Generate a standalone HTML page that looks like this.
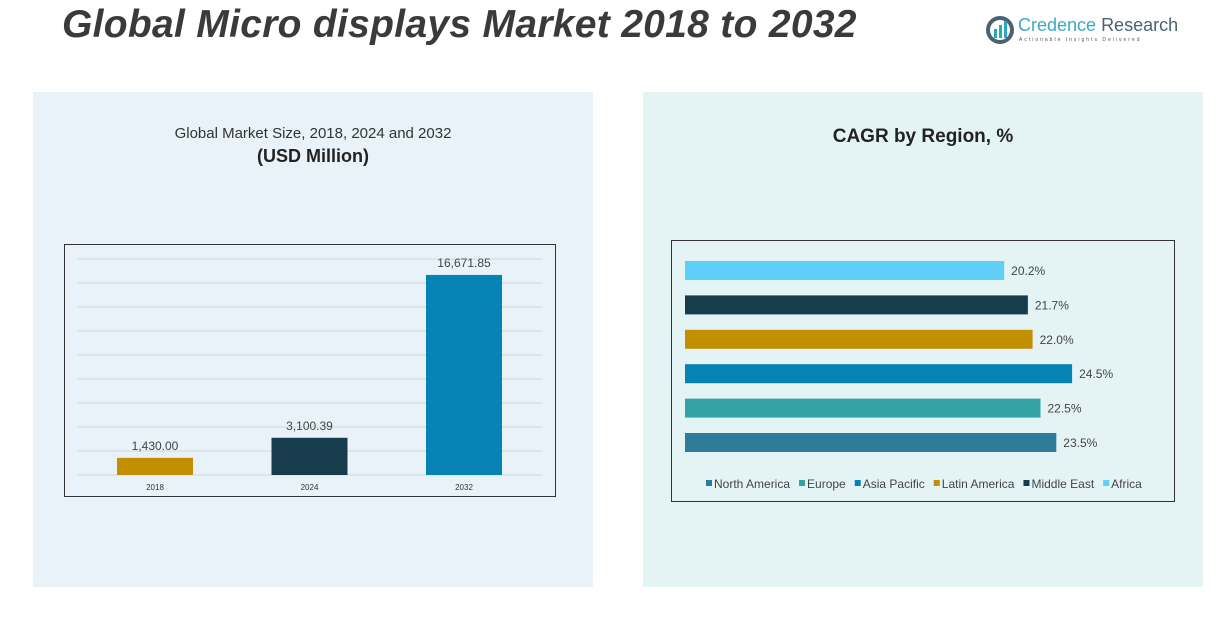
<!DOCTYPE html>
<html><head><meta charset="utf-8"><style>
body{margin:0;width:1232px;height:622px;background:#fff;position:relative;overflow:hidden;font-family:"Liberation Sans",sans-serif}
.abs{position:absolute}
</style></head><body>
<div class="abs" style="left:62px;top:3px;font-size:39px;font-weight:bold;font-style:italic;color:#3a3a3a;letter-spacing:0.3px">Global Micro displays Market 2018 to 2032</div>
<div class="abs" style="left:985px;top:14px;width:200px;height:34px">
 <svg width="30" height="30" class="abs" style="left:0;top:1px"><circle cx="15" cy="15" r="12" fill="none" stroke="#4a6272" stroke-width="4"/><rect x="9" y="14" width="3" height="9" fill="#2aa6c9"/><rect x="14" y="10" width="3" height="13" fill="#2aa6c9"/><rect x="19" y="6" width="3" height="17" fill="#2aa6c9"/></svg>
 <div class="abs" style="left:33px;top:1px;font-size:18px;color:#3aa9c8;white-space:nowrap">Credence <span style="color:#4a6272">Research</span></div>
 <div class="abs" style="left:34px;top:23px;font-size:5px;letter-spacing:2px;color:#555;white-space:nowrap">Actionable Insights Delivered</div>
</div>
<div class="abs" style="left:33px;top:92px;width:560px;height:495px;background:#e8f2f8"></div>
<div class="abs" style="left:643px;top:92px;width:560px;height:495px;background:#e4f4f4"></div>
<div class="abs" style="left:33px;top:125px;width:560px;text-align:center;font-size:15px;color:#333">Global Market Size, 2018, 2024 and 2032</div>
<div class="abs" style="left:33px;top:146px;width:560px;text-align:center;font-size:18px;font-weight:bold;color:#222">(USD Million)</div>
<div class="abs" style="left:643px;top:126px;width:560px;text-align:center;font-size:19px;font-weight:bold;color:#222">CAGR by Region, %</div>
<svg class="abs" style="left:0;top:0" width="1232" height="622" id="svg"></svg>
<script>
const years=["2018","2024","2032"];
const sizes=[1430.00,3100.39,16671.85];
const sizeLabels=["1,430.00","3,100.39","16,671.85"];
const regions=["Africa","Middle East","Latin America","Asia Pacific","Europe","North America"];
const cagr=[20.2,21.7,22.0,24.5,22.5,23.5];
const legendOrder=["North America","Europe","Asia Pacific","Latin America","Middle East","Africa"];
const colors={"North America":"#2e7b9a","Europe":"#33a3a3","Asia Pacific":"#0682b4","Latin America":"#c28f00","Middle East":"#173d4c","Africa":"#5fcff7"};
const barColors=["#c28f00","#173d4c","#0682b4"];
const NS="http://www.w3.org/2000/svg";
const svg=document.getElementById('svg');
function mk(t,a,p){const e=document.createElementNS(NS,t);for(const k in a)e.setAttribute(k,a[k]);(p||svg).appendChild(e);return e;}
let f=mk('rect',{x:64.5,y:244.5,width:491,height:252,fill:'none',stroke:'#333',"stroke-width":1});


const yMax=18000,y0=475,ph=216;
const yS=v=>y0-v/yMax*ph;
for(let v=0;v<=yMax;v+=2000){const g=mk('line',{x1:77,x2:542,y1:yS(v),y2:yS(v),stroke:'#cfd8dc'});

}
const xC=i=>155+i*154.5;
years.forEach((y,i)=>{
 const r=mk('rect',{x:xC(i)-38,y:yS(sizes[i]),width:76,height:y0-yS(sizes[i]),fill:barColors[i]});
 
 
 const t=mk('text',{x:xC(i),y:yS(sizes[i])-8,"text-anchor":"middle","font-size":12,fill:'#444'});t.textContent=sizeLabels[i];
 
 
 const l=mk('text',{x:xC(i),y:490,"text-anchor":"middle","font-size":8,fill:'#333'});l.textContent=y;
 
 
});
f=mk('rect',{x:671.5,y:240.5,width:503,height:261,fill:'none',stroke:'#333',"stroke-width":1});


const xS=v=>685+v*15.8;
regions.forEach((r,i)=>{
 const y=261+i*34.4;
 const b=mk('rect',{x:685,y:y,width:xS(cagr[i])-685,height:19,fill:colors[r]});
 
 
 const t=mk('text',{x:xS(cagr[i])+7,y:y+14,"font-size":12,fill:'#444'});t.textContent=cagr[i].toFixed(1)+'%';
 
 
});
let lx=706;
legendOrder.forEach(r=>{
 const g=mk('g',{});
 
 
 mk('rect',{x:lx,y:480,width:6,height:6,fill:colors[r]},g);
 const t=mk('text',{x:lx+8,y:488,"font-size":12,fill:'#444'},g);t.textContent=r;
 lx+=8+t.getComputedTextLength()+9;
});
</script>
</body></html>
